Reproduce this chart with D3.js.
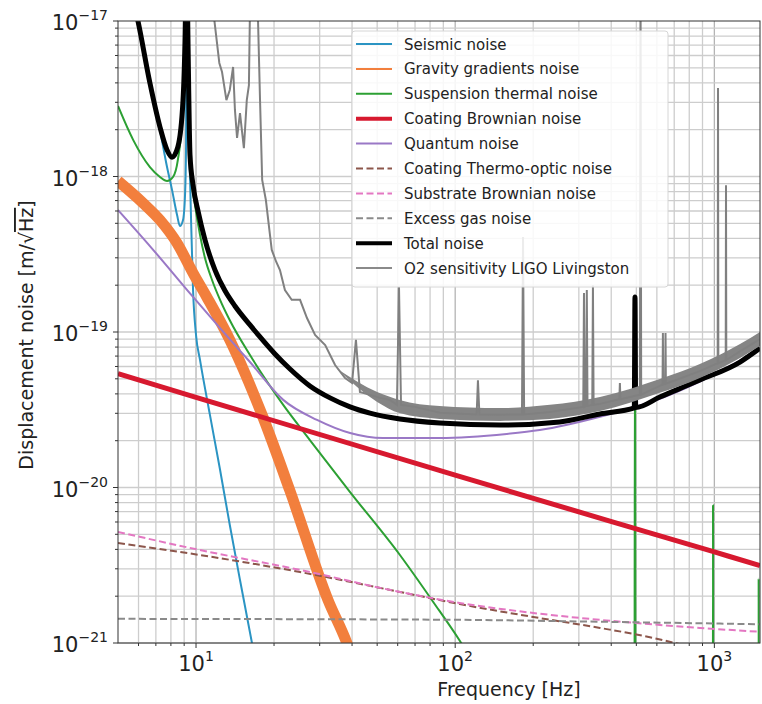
<!DOCTYPE html>
<html>
<head>
<meta charset="utf-8">
<script src="https://cdn.jsdelivr.net/npm/d3@7"></script>
<style>
  body { margin: 0; background: #fff; }
  text { font-family: "DejaVu Sans", sans-serif; fill: #222; }
</style>
</head>
<body>
<svg id="chart"></svg>
<script>
// ---- data (frequency in Hz, noise in m/sqrt(Hz)) ----
const seismicF = [5.56, 5.97, 6.64, 7.26, 7.73, 8.08, 8.45, 8.67, 8.91, 9.07, 9.15, 9.2, 9.31, 9.48, 9.57, 9.74, 10.0, 10.36, 11.32, 12.38, 13.5, 14.78, 16.44, 17.35];
const seismicV = [1.58e-17, 1e-17, 3.94e-18, 1.99e-18, 1.15e-18, 8.2e-19, 5.65e-19, 4.8e-19, 5.25e-19, 7.6e-19, 1.48e-18, 3e-17, 3.1e-18, 1.0e-18, 5.25e-19, 1.86e-19, 9.57e-20, 6.61e-20, 2.92e-20, 1.3e-20, 5.74e-21, 2.54e-21, 1e-21, 6.1e-22];

const gravityF = [5, 6.24, 7.26, 8.45, 9.74, 11.0, 13.5, 18.0, 23.0, 32.3, 38.2, 41.0];
const gravityV = [9.35e-19, 6.76e-19, 5.25e-19, 3.73e-19, 2.39e-19, 1.68e-19, 8.9e-20, 2.92e-20, 9.6e-21, 1.89e-21, 1.0e-21, 7.2e-22];

const suspensionF = [5, 5.72, 6.64, 7.26, 7.73, 8.15, 8.51, 8.83, 8.99, 9.2, 9.31, 9.48, 9.91, 10.36, 10.83, 11.53, 12.38, 13.5, 16.15, 21.7, 27.5, 39.3, 61.2, 82.0, 104.3, 119, 200, 491, 494, 497, 984, 988, 992, 1478, 1482, 1486, 1500];
const suspensionV = [2.84e-18, 1.72e-18, 1.15e-18, 9.93e-19, 9.35e-19, 9.93e-19, 1.28e-18, 2.31e-18, 5.61e-18, 3e-17, 7.55e-18, 1.2e-18, 6.56e-19, 4.21e-19, 2.99e-19, 2.16e-19, 1.61e-19, 1.19e-19, 7.11e-20, 3.4e-20, 2.02e-20, 9.35e-21, 3.68e-21, 1.85e-21, 1.03e-21, 7.2e-22, 1.5e-22, 2e-23, 1.68e-19, 2e-23, 2e-24, 7.7e-21, 2e-24, 1e-24, 2.6e-21, 1e-24, 1e-24];

const coatingF = [5, 10, 100, 1000, 1500];
const coatingV = [5.4e-20, 3.8e-20, 1.2e-20, 3.85e-21, 3.15e-21];

const quantumF = [5, 6.64, 9.74, 12.38, 16.15, 21.7, 29.3, 39.3, 52.6, 87.3, 158, 212, 362, 616, 879, 1500];
const quantumV = [6.09e-19, 3.57e-19, 1.68e-19, 1.06e-19, 6.41e-20, 3.66e-20, 2.72e-20, 2.24e-20, 2.08e-20, 2.08e-20, 2.21e-20, 2.34e-20, 2.85e-20, 3.72e-20, 4.8e-20, 7.7e-20];

const thermoF = [5, 10.36, 25.2, 61.2, 104, 200, 362, 564, 705, 1052];
const thermoV = [4.4e-21, 3.68e-21, 2.86e-21, 2.13e-21, 1.78e-21, 1.47e-21, 1.25e-21, 1.09e-21, 1.0e-21, 8.4e-22];

const substrateF = [5, 10.36, 25.2, 61.2, 104, 200, 485, 879, 1500];
const substrateV = [5.18e-21, 3.96e-21, 2.95e-21, 2.13e-21, 1.81e-21, 1.56e-21, 1.35e-21, 1.25e-21, 1.18e-21];

const gasF = [5, 100, 362, 1500];
const gasV = [1.43e-21, 1.41e-21, 1.37e-21, 1.32e-21];

const totalF = [5.66, 5.97, 6.64, 7.26, 7.73, 8.08, 8.51, 8.91, 9.07, 9.2, 9.31, 9.48, 9.74, 10.2, 10.83, 11.84, 12.94, 14.13, 16.15, 17.66, 20.17, 23.05, 27.5, 32.9, 39.3, 46.9, 61.2, 87.3, 149, 253, 362, 491, 494, 497, 616, 879, 1256, 1500];
const totalV = [1.47e-17, 1e-17, 3.99e-18, 2.08e-18, 1.48e-18, 1.33e-18, 1.55e-18, 3.1e-18, 7.55e-18, 3e-17, 7.55e-18, 1.37e-18, 8.81e-19, 5.91e-19, 3.91e-19, 2.5e-19, 1.84e-19, 1.47e-19, 1.11e-19, 9.29e-20, 7.22e-20, 5.78e-20, 4.5e-20, 3.77e-20, 3.3e-20, 3.01e-20, 2.76e-20, 2.6e-20, 2.52e-20, 2.64e-20, 2.97e-20, 3.25e-20, 1.68e-19, 3.27e-20, 3.82e-20, 4.91e-20, 6.41e-20, 7.88e-20];

// O2 LIGO Livingston sensitivity (line with spectral lines + noisy band at high frequency)
const ligoF = [11.7, 12.3, 12.6, 13.1, 13.5, 13.9, 14.13, 14.4, 14.78, 15.0, 15.3, 15.7, 16.0, 16.15, 16.7, 17.35, 17.66, 18.0, 18.6, 19.29, 19.6, 20.4, 21.08, 22.03, 23.4, 25.2, 26.8, 28.8, 31.5, 34.4, 37.6, 40.0, 41.4, 42.9, 46.9, 51.3, 56, 59.6, 60.7, 61.8, 70, 87.3, 121, 122.4, 124, 149, 181, 182.7, 184.5, 232, 312, 314, 316, 320, 322, 324, 338, 340, 342, 362, 430, 432, 434, 516, 519, 522, 616, 631, 633, 635, 646, 648, 650, 879, 1030, 1033, 1036, 1106, 1109, 1112, 1256, 1500];
const ligoV = [1.1e-17, 5.37e-18, 4.7e-18, 3.1e-18, 3.6e-18, 5.06e-18, 2.68e-18, 1.77e-18, 2.56e-18, 2.05e-18, 1.52e-18, 3.1e-18, 3.87e-18, 1.2e-17, 1.2e-17, 1e-17, 3.1e-18, 9.5e-19, 7.06e-19, 4.21e-19, 3.37e-19, 2.82e-19, 2.5e-19, 1.86e-19, 1.61e-19, 1.61e-19, 1.23e-19, 9.57e-20, 8.25e-20, 6.13e-20, 5.06e-20, 4.7e-20, 8.9e-20, 4.11e-20, 3.94e-20, 3.77e-20, 3.66e-20, 3.4e-20, 1.95e-19, 3.4e-20, 3.3e-20, 3.03e-20, 2.95e-20, 4.9e-20, 2.95e-20, 2.94e-20, 2.95e-20, 4.08e-19, 2.95e-20, 3.06e-20, 3.3e-20, 1.78e-19, 3.3e-20, 3.35e-20, 1.86e-19, 3.35e-20, 3.4e-20, 2.0e-19, 3.4e-20, 3.45e-20, 3.7e-20, 4.7e-20, 3.7e-20, 3.95e-20, 2e-17, 3.95e-20, 4.5e-20, 4.6e-20, 9.86e-20, 4.6e-20, 4.65e-20, 9.86e-20, 4.65e-20, 5.6e-20, 6.3e-20, 3.71e-18, 6.3e-20, 6.6e-20, 8.8e-19, 6.6e-20, 7.5e-20, 9.0e-20];
const ligoBandF = [35, 50, 61, 87, 149, 232, 362, 616, 879, 1256, 1500];
const ligoBandHi = [5.8e-20, 4.11e-20, 3.66e-20, 3.34e-20, 3.24e-20, 3.4e-20, 3.82e-20, 4.99e-20, 6.22e-20, 8.37e-20, 1.0e-19];
const ligoBandLo = [5.8e-20, 3.55e-20, 3.01e-20, 2.76e-20, 2.68e-20, 2.76e-20, 3.1e-20, 4.06e-20, 5.06e-20, 6.81e-20, 8.13e-20];

const yTicks = [1e-21, 1e-20, 1e-19, 1e-18, 1e-17];
const yTickExp = ["−21", "−20", "−19", "−18", "−17"];
const xTicks = [10, 100, 1000];
const xTickExp = ["1", "2", "3"];

// ---- layout ----
const W = 762, H = 704;
const margin = { left: 118, right: 760, top: 21, bottom: 643 };

const svg = d3.select("#chart").attr("width", W).attr("height", H);

const x = d3.scaleLog().domain([5, 1500]).range([margin.left, margin.right]);
const y = d3.scaleLog().domain([1e-21, 1e-17]).range([margin.bottom, margin.top]);

svg.append("defs").append("clipPath").attr("id", "plotclip")
  .append("rect").attr("x", margin.left).attr("y", margin.top)
  .attr("width", margin.right - margin.left).attr("height", margin.bottom - margin.top);

// grid (major + minor)
const xMinor = [];
[1, 10, 100, 1000].forEach((d) => {
  for (let k = 1; k <= 9; k++) {
    const v = d * k;
    if (v > 5 && v < 1500) xMinor.push(v);
  }
});
const yMinor = [];
[1e-21, 1e-20, 1e-19, 1e-18].forEach((d) => {
  for (let k = 1; k <= 9; k++) yMinor.push(d * k);
});

const grid = svg.append("g");
grid.selectAll(".gx").data(xMinor).enter().append("line")
  .attr("x1", (d) => x(d)).attr("x2", (d) => x(d))
  .attr("y1", margin.top).attr("y2", margin.bottom)
  .attr("stroke", (d) => (xTicks.includes(d) ? "#b4b4b4" : "#cdcdcd"))
  .attr("stroke-width", 1.3);
grid.selectAll(".gy").data(yMinor).enter().append("line")
  .attr("x1", margin.left).attr("x2", margin.right)
  .attr("y1", (d) => y(d)).attr("y2", (d) => y(d))
  .attr("stroke", "#cdcdcd")
  .attr("stroke-width", 1.3);

// curves
const plot = svg.append("g").attr("clip-path", "url(#plotclip)");

function series(F, V) {
  return F.map((f, i) => [f, V[i]]);
}

const smooth = d3.line().x((d) => x(d[0])).y((d) => y(d[1])).curve(d3.curveMonotoneX);
const straight = d3.line().x((d) => x(d[0])).y((d) => y(d[1]));

const curves = [
  { F: seismicF, V: seismicV, color: "#2b94c3", w: 2 },
  { F: gravityF, V: gravityV, color: "#f27f3d", w: 11 },
  { F: suspensionF, V: suspensionV, color: "#2ca033", w: 2 },
  { F: coatingF, V: coatingV, color: "#d7192f", w: 5 },
  { F: quantumF, V: quantumV, color: "#9a78c6", w: 2 },
  { F: thermoF, V: thermoV, color: "#8c564b", w: 2, dash: "7,3.5" },
  { F: substrateF, V: substrateV, color: "#e377c2", w: 2, dash: "7,3.5" },
  { F: gasF, V: gasV, color: "#8a8a8a", w: 2, dash: "7,3.5" },
  { F: totalF, V: totalV, color: "#000", w: 5 },
];

curves.forEach((c) => {
  plot.append("path")
    .datum(series(c.F, c.V))
    .attr("fill", "none")
    .attr("stroke", c.color)
    .attr("stroke-width", c.w)
    .attr("stroke-dasharray", c.dash || null)
    .attr("stroke-linejoin", "round")
    .attr("d", smooth);
});

// O2 sensitivity: noisy band plus line with spectral lines
plot.append("path")
  .datum(ligoBandF.map((f, i) => [f, ligoBandLo[i], ligoBandHi[i]]))
  .attr("fill", "#858585")
  .attr("d", d3.area().x((d) => x(d[0])).y0((d) => y(d[1])).y1((d) => y(d[2])).curve(d3.curveMonotoneX));

plot.append("path")
  .datum(series(ligoF, ligoV))
  .attr("fill", "none")
  .attr("stroke", "#808080")
  .attr("stroke-width", 2)
  .attr("d", straight);

// spines
svg.append("rect")
  .attr("x", margin.left).attr("y", margin.top)
  .attr("width", margin.right - margin.left).attr("height", margin.bottom - margin.top)
  .attr("fill", "none").attr("stroke", "#333").attr("stroke-width", 1);

// ticks
const ax = svg.append("g");
ax.selectAll(".tx").data(xMinor).enter().append("line")
  .attr("x1", (d) => x(d)).attr("x2", (d) => x(d))
  .attr("y1", margin.bottom).attr("y2", (d) => margin.bottom + (xTicks.includes(d) ? 5 : 3))
  .attr("stroke", "#333");
ax.selectAll(".ty").data(yMinor.concat([1e-17])).enter().append("line")
  .attr("x1", margin.left).attr("x2", (d) => margin.left - (yTicks.includes(d) ? 5 : 3))
  .attr("y1", (d) => y(d)).attr("y2", (d) => y(d))
  .attr("stroke", "#333");

// tick labels
yTicks.forEach((t, i) => {
  const txt = ax.append("text")
    .attr("x", 108).attr("y", y(t) + 9)
    .attr("text-anchor", "end");
  txt.append("tspan").attr("font-size", 21).text("10");
  txt.append("tspan").attr("font-size", 14).attr("dy", -10).text(yTickExp[i]);
});
xTicks.forEach((t, i) => {
  const txt = ax.append("text")
    .attr("x", x(t)).attr("y", 671)
    .attr("text-anchor", "middle");
  txt.append("tspan").attr("font-size", 21).text("10");
  txt.append("tspan").attr("font-size", 14).attr("dy", -10).text(xTickExp[i]);
});

// axis labels
svg.append("text")
  .attr("x", 509).attr("y", 696)
  .attr("text-anchor", "middle")
  .attr("font-size", 19)
  .text("Frequency [Hz]");

const yl = svg.append("text")
  .attr("transform", "translate(33,335) rotate(-90)")
  .attr("text-anchor", "middle")
  .attr("font-size", 19);
yl.append("tspan").text("Displacement noise [m/√");
yl.append("tspan").style("text-decoration", "overline").text("Hz");
yl.append("tspan").text("]");

// legend
const legendLabels = ["Seismic noise", "Gravity gradients noise", "Suspension thermal noise", "Coating Brownian noise", "Quantum noise", "Coating Thermo-optic noise", "Substrate Brownian noise", "Excess gas noise", "Total noise", "O2 sensitivity LIGO Livingston"];
const legendColors = ["#2b94c3", "#f27f3d", "#2ca033", "#d7192f", "#9a78c6", "#8c564b", "#e377c2", "#8a8a8a", "#000", "#8a8a8a"];
const legendWidths = [2, 2, 2, 4, 2, 2, 2, 2, 4, 2];
const legendDash = [null, null, null, null, null, "7,3.5", "7,3.5", "7,3.5", null, null];

const lg = svg.append("g");
lg.append("rect")
  .attr("x", 352).attr("y", 31).attr("width", 316).attr("height", 256)
  .attr("rx", 3)
  .attr("fill", "#fff").attr("fill-opacity", 0.85)
  .attr("stroke", "#d6d6d6");
legendLabels.forEach((lab, i) => {
  const yy = 44 + i * 24.9;
  lg.append("line")
    .attr("x1", 356).attr("x2", 392).attr("y1", yy).attr("y2", yy)
    .attr("stroke", legendColors[i]).attr("stroke-width", legendWidths[i])
    .attr("stroke-dasharray", legendDash[i]);
  lg.append("text")
    .attr("x", 404).attr("y", yy + 5.5)
    .attr("font-size", 15)
    .text(lab);
});
</script>
</body>
</html>
